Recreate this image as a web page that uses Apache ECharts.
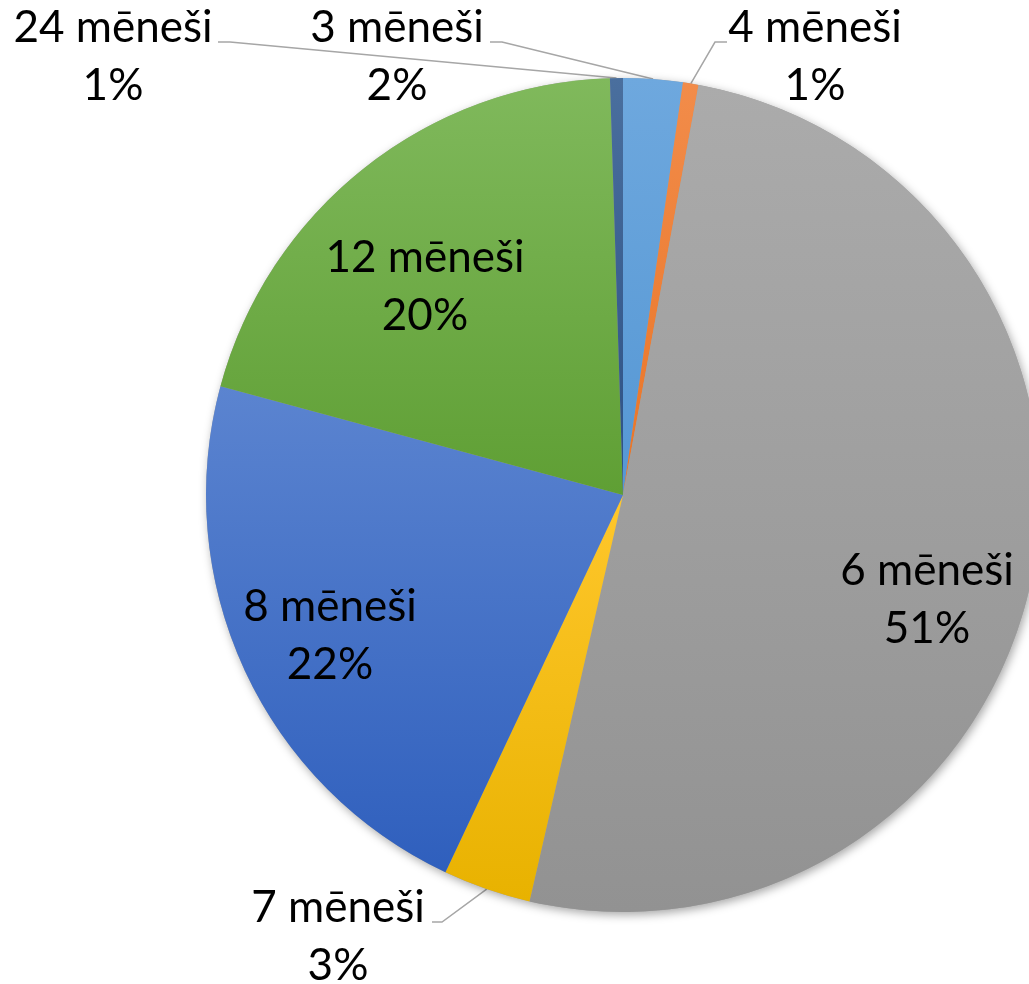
<!DOCTYPE html>
<html>
<head>
<meta charset="utf-8">
<script src="https://cdn.jsdelivr.net/npm/echarts@6/dist/echarts.min.js"></script>
<style>
    html, body { margin: 0; padding: 0; background: #fff; }
    #chart { width: 1029px; height: 984px; }
</style>
</head>
<body>
<div id="chart"></div>
<script>
// data (share of answers, %)
var categories = ['3 mēneši', '4 mēneši', '6 mēneši', '7 mēneši', '8 mēneši', '12 mēneši', '24 mēneši'];
var shares = [2.3, 0.6, 50.7, 3.4, 22.2, 20.3, 0.5];

// Excel-like gradient fills, top -> bottom
var colorTop = ['#6ea8de', '#f28c4a', '#ababab', '#ffc72c', '#5b84d0', '#80b95c', '#4a6f9e'];
var colorBottom = ['#5597d4', '#e97426', '#929292', '#e8b200', '#2f5fbd', '#5f9f34', '#2c5084'];
var outsideLabels = ['3 mēneši', '4 mēneši', '7 mēneši', '24 mēneši'];

// where the labels sit and how the leader lines bend
var labelSpots = {
    '3 mēneši': { x: 397, y: 57, bend: [[502, 42], [490, 42]] },
    '4 mēneši': { x: 815, y: 57, bend: [[715, 42], [727, 42]] },
    '6 mēneši': { x: 927, y: 600 },
    '7 mēneši': { x: 338, y: 937, bend: [[442, 922], [432, 922]] },
    '8 mēneši': { x: 330, y: 636 },
    '12 mēneši': { x: 425, y: 287 },
    '24 mēneši': { x: 113, y: 57, bend: [[230, 42], [218, 42]] }
};

var pieData = categories.map(function (name, i) {
    var outside = outsideLabels.indexOf(name) >= 0;
    return {
        name: name,
        value: shares[i],
        itemStyle: {
            color: {
                type: 'linear', x: 0, y: 0, x2: 0, y2: 1,
                colorStops: [
                    { offset: 0, color: colorTop[i] },
                    { offset: 1, color: colorBottom[i] }
                ]
            }
        },
        label: { position: outside ? 'outside' : 'inside' },
        labelLine: { show: outside }
    };
});

var total = shares.reduce(function (a, b) { return a + b; }, 0);

var chart = echarts.init(document.getElementById('chart'));
chart.setOption({
    animation: false,
    series: [
        {
            // soft shadow under the whole pie
            type: 'pie',
            silent: true,
            center: [623, 495],
            radius: 417,
            data: [{ value: total, itemStyle: { color: '#a0a0a0' } }],
            label: { show: false },
            labelLine: { show: false },
            itemStyle: {
                shadowBlur: 10,
                shadowColor: 'rgba(0,0,0,0.35)',
                shadowOffsetX: 2,
                shadowOffsetY: 3
            }
        },
        {
            type: 'pie',
            center: [623, 495],
            radius: 417,
            startAngle: 90,
            clockwise: true,
            avoidLabelOverlap: false,
            percentPrecision: 0,
            emphasis: { disabled: true },
            data: pieData,
            label: {
                formatter: '{b}\n{d}%',
                fontFamily: 'Lato',
                fontSize: 44,
                lineHeight: 58,
                color: '#000',
                align: 'center'
            },
            labelLine: {
                length: 20,
                length2: 10,
                lineStyle: { color: '#a6a6a6', width: 1.5 }
            },
            labelLayout: function (params) {
                var spot = labelSpots[categories[params.dataIndex]];
                var out = { x: spot.x, y: spot.y, align: 'center', verticalAlign: 'middle' };
                if (spot.bend && params.labelLinePoints) {
                    out.labelLinePoints = [params.labelLinePoints[0]].concat(spot.bend);
                }
                return out;
            }
        }
    ]
});
</script>
</body>
</html>
